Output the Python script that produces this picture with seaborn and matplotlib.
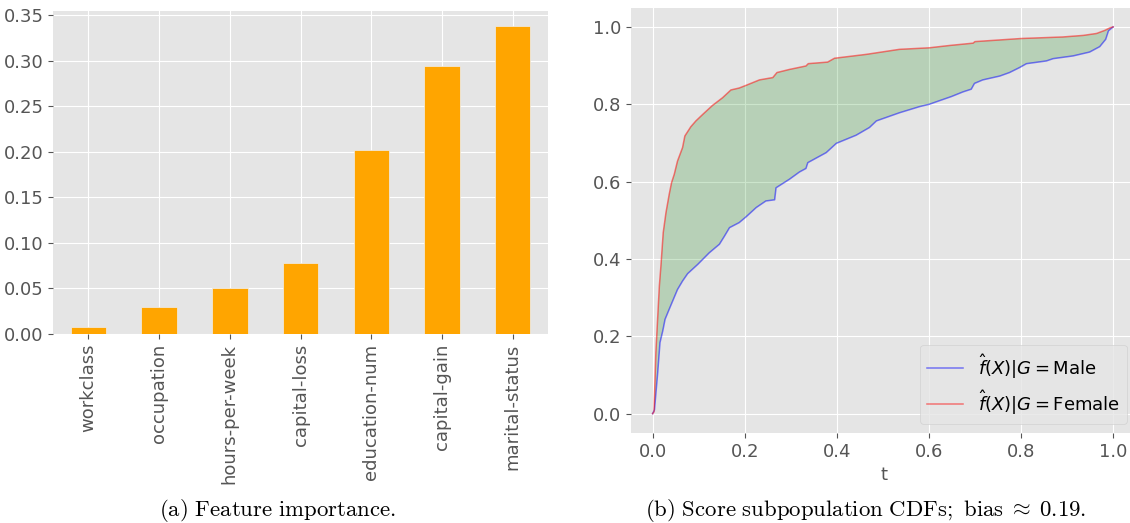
import numpy as np
import pandas as pd
import matplotlib
matplotlib.use("Agg")
import matplotlib.pyplot as plt
import seaborn as sns

plt.style.use("ggplot")

# ---- data: feature importance ----
features = ["workclass", "occupation", "hours-per-week", "capital-loss",
            "education-num", "capital-gain", "marital-status"]
importances = [0.008, 0.030, 0.051, 0.078, 0.202, 0.294, 0.338]

# ---- data: score CDFs ----
t_female = [0, 0.003, 0.007, 0.0146, 0.018, 0.023, 0.029, 0.036, 0.041, 0.047,
            0.054, 0.065, 0.070, 0.083, 0.094, 0.109, 0.130, 0.152, 0.170, 0.188,
            0.203, 0.232, 0.261, 0.270, 0.297, 0.333, 0.338, 0.380, 0.395, 0.464,
            0.536, 0.601, 0.645, 0.696, 0.700, 0.800, 0.891, 0.935, 0.964, 0.982,
            0.994, 1.0]
cdf_female = [0, 0.005, 0.158, 0.33, 0.382, 0.468, 0.52, 0.567, 0.597, 0.619,
              0.653, 0.688, 0.718, 0.742, 0.757, 0.774, 0.797, 0.817, 0.837, 0.842,
              0.849, 0.863, 0.869, 0.882, 0.890, 0.899, 0.905, 0.909, 0.919, 0.929,
              0.942, 0.946, 0.952, 0.958, 0.962, 0.970, 0.974, 0.978, 0.983, 0.991,
              0.998, 1.0]
t_male = [0, 0.004, 0.011, 0.016, 0.022, 0.027, 0.036, 0.042, 0.054, 0.065,
          0.076, 0.098, 0.123, 0.145, 0.156, 0.167, 0.188, 0.203, 0.225, 0.246,
          0.265, 0.268, 0.297, 0.319, 0.333, 0.337, 0.377, 0.399, 0.442, 0.471,
          0.486, 0.536, 0.580, 0.601, 0.620, 0.649, 0.674, 0.692, 0.699, 0.717,
          0.754, 0.775, 0.797, 0.812, 0.855, 0.870, 0.913, 0.949, 0.971, 0.984,
          0.990, 1.0]
cdf_male = [0, 0.01, 0.106, 0.184, 0.214, 0.244, 0.270, 0.287, 0.321, 0.343,
            0.362, 0.386, 0.416, 0.438, 0.459, 0.481, 0.494, 0.509, 0.533, 0.550,
            0.553, 0.584, 0.606, 0.625, 0.634, 0.649, 0.675, 0.699, 0.720, 0.740,
            0.757, 0.778, 0.794, 0.800, 0.808, 0.820, 0.832, 0.839, 0.854, 0.863,
            0.873, 0.882, 0.895, 0.905, 0.912, 0.918, 0.925, 0.935, 0.949, 0.968,
            0.990, 1.0]

label_male = r"$\hat{f}(X)|G = \mathrm{Male}$"
label_female = r"$\hat{f}(X)|G = \mathrm{Female}$"
caption_a = r"$\mathrm{(a)\ Feature\ importance.}$"
caption_b = r"$\mathrm{(b)\ Score\ subpopulation\ CDFs;\ bias}\;\approx\;\mathrm{0.19.}$"

TICK_FS = 13
TXT_C = "#555555"

fig = plt.figure(figsize=(11.3, 5.23), dpi=100)

# ---- left panel ----
ax1 = fig.add_axes([0.047, 0.3614, 0.438, 0.6176])
df = pd.DataFrame({"feature": features, "importance": importances})
sns.barplot(data=df, x="feature", y="importance", order=features,
            color="orange", saturation=1, width=0.5,
            edgecolor="#EEEEEE", linewidth=0.5, ax=ax1)
ax1.set_xlabel("")
ax1.set_ylabel("")
ax1.grid(True, axis="both", color="white")
ax1.set_axisbelow(True)
ax1.set_yticks(np.arange(0, 0.351, 0.05))
ax1.set_yticklabels([f"{v:.2f}" for v in np.arange(0, 0.351, 0.05)])
ax1.tick_params(axis="x", labelrotation=90)
ax1.tick_params(labelsize=TICK_FS, labelcolor=TXT_C, color=TXT_C)
for s in ax1.spines.values():
    s.set_visible(False)

# ---- right panel ----
ax2 = fig.add_axes([0.5584, 0.1721, 0.447, 0.8134])
poly_x = np.concatenate([t_female, t_male[::-1]])
poly_y = np.concatenate([cdf_female, cdf_male[::-1]])
ax2.fill(poly_x, poly_y, color="green", alpha=0.2, lw=0, zorder=1)
sns.lineplot(x=t_male, y=cdf_male, color="blue", alpha=0.5, lw=1.1,
             estimator=None, sort=False, label=label_male, ax=ax2, zorder=2)
sns.lineplot(x=t_female, y=cdf_female, color="red", alpha=0.5, lw=1.1,
             estimator=None, sort=False, label=label_female, ax=ax2, zorder=2)
ax2.set_xlim(-0.047, 1.05)
ax2.set_ylim(-0.05, 1.05)
ax2.set_xticks([0, 0.2, 0.4, 0.6, 0.8, 1.0])
ax2.set_yticks([0, 0.2, 0.4, 0.6, 0.8, 1.0])
ax2.set_xlabel("t", fontsize=TICK_FS, color=TXT_C)
ax2.set_ylabel("")
ax2.tick_params(labelsize=TICK_FS, labelcolor=TXT_C, color=TXT_C)
ax2.grid(True, color="white")
for s in ax2.spines.values():
    s.set_visible(False)
ax2.legend(loc="lower right", fontsize=13, labelspacing=0.4)

# ---- captions ----
fig.text(0.2456, 0.023, caption_a, ha="center", va="center", fontsize=16.4,
         color="black", math_fontfamily="cm")
fig.text(0.7664, 0.023, caption_b, ha="center", va="center", fontsize=16.4,
         color="black", math_fontfamily="cm")

fig.savefig("out.png", dpi=100)
